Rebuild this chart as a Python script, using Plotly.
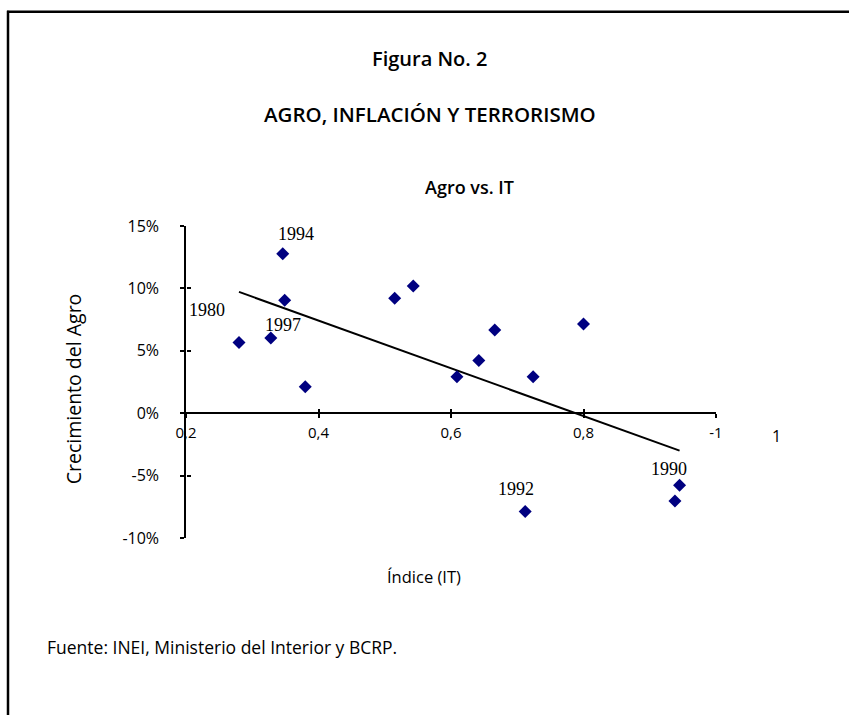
import numpy as np
import plotly.graph_objects as go

# ---- data ----
indice_it = [0.280, 0.328, 0.346, 0.349, 0.380, 0.515, 0.543, 0.609, 0.642,
             0.666, 0.800, 0.724, 0.712, 0.945, 0.938]
crec_agro = [5.67, 6.02, 12.77, 9.06, 2.12, 9.22, 10.19, 2.93, 4.22,
             6.67, 7.15, 2.93, -7.88, -5.78, -7.04]
label_years = ["1980", "1997", "1994", "1992", "1990"]
label_idx = [0, 1, 2, 12, 13]

x_tickvals = [0.2, 0.4, 0.6, 0.8, 1.0]
x_ticktext = ["0,2", "0,4", "0,6", "0,8", "-1"]
y_tickvals = [-10, -5, 0, 5, 10, 15]
y_ticktext = ["-10%", "-5%", "0%", "5%", "10%", "15%"]

# ---- layout geometry (pixels) ----
W, H = 849, 715
L, R, T, B = 186, 716, 225.5, 538


def px(xp):
    return (xp - L) / (R - L)


def py(yp):
    return (B - yp) / (B - T)


TITLE_FONT = "Open Sans, Lato, sans-serif"
SANS = "Open Sans, Lato, sans-serif"
SERIF = "Liberation Serif, DejaVu Serif, serif"

# regression line (OLS on the points)
xa = np.array(indice_it)
ya = np.array(crec_agro)
m, c = np.polyfit(xa, ya, 1)
xl = np.array([xa.min(), xa.max()])
yl = m * xl + c

fig = go.Figure()
fig.add_trace(go.Scatter(x=xl, y=yl, mode="lines",
                         line=dict(color="black", width=2),
                         hoverinfo="skip", showlegend=False))
fig.add_trace(go.Scatter(x=indice_it, y=crec_agro, mode="markers",
                         marker=dict(symbol="diamond", size=10, color="#000080",
                                     line=dict(width=0)),
                         showlegend=False))
# invisible trace for overlay axes (inside ticks)
fig.add_trace(go.Scatter(x=[0.2], y=[0], xaxis="x2", yaxis="y2", mode="markers",
                         marker=dict(opacity=0), showlegend=False, hoverinfo="skip"))

axis_common = dict(showgrid=False, zeroline=False, linecolor="black",
                   tickcolor="black", ticklen=4, tickwidth=1.5)

fig.update_layout(
    width=W, height=H,
    margin=dict(l=L, r=W - R, t=T, b=H - B),
    paper_bgcolor="white", plot_bgcolor="white",
    xaxis=dict(range=[0.2, 1.0], tickvals=x_tickvals, ticktext=x_ticktext,
               anchor="free", position=py(413), showline=True, linewidth=1.5,
               ticks="outside", ticklabelstandoff=2,
               tickfont=dict(family=SANS, size=15, color="black"),
               **axis_common),
    yaxis=dict(range=[-10, 15], tickvals=y_tickvals, ticktext=y_ticktext,
               showline=True, linewidth=1.5, ticks="outside",
               ticklabelstandoff=18,
               tickfont=dict(family=SANS, size=16, color="black"),
               **axis_common),
    xaxis2=dict(range=[0.2, 1.0], tickvals=x_tickvals, overlaying="x",
                anchor="free", position=py(413), ticks="inside",
                showticklabels=False, showline=False, **axis_common),
    yaxis2=dict(range=[-10, 15], tickvals=y_tickvals, overlaying="y",
                anchor="free", position=0, ticks="inside",
                showticklabels=False, showline=False, **axis_common),
)

ann = []


def add_text(text, xp, yp, size, family, xanchor="center", angle=0, weight="normal"):
    ann.append(dict(text=text, x=px(xp), y=py(yp), xref="paper", yref="paper",
                    showarrow=False, xanchor=xanchor, yanchor="middle",
                    textangle=angle,
                    font=dict(family=family, size=size, color="black",
                              weight=weight)))


add_text("Figura No. 2", 429, 58, 20, TITLE_FONT, weight=600)
add_text("AGRO, INFLACIÓN Y TERRORISMO", 430, 113, 20.5, TITLE_FONT, weight=600)
add_text("Agro vs. IT", 469, 186, 18, TITLE_FONT, weight=600)
add_text("Índice (IT)", 424, 577, 16.5, SANS)
add_text("Fuente: INEI, Ministerio del Interior y BCRP.", 45, 647, 17.5, SANS,
         xanchor="left")
add_text("Crecimiento del Agro", 73, 389, 19.5, SANS, angle=-90)
add_text("1", 776, 436, 16, SANS)

# year labels: offsets in pixels from their points
offsets = {"1980": (-32, 32), "1997": (12, 13), "1994": (13, 20),
           "1992": (-9, 23), "1990": (-11, 16)}
for yr, i in zip(label_years, label_idx):
    dx, dy = offsets[yr]
    ann.append(dict(text=yr, x=indice_it[i], y=crec_agro[i], xref="x", yref="y",
                    showarrow=False, xshift=dx, yshift=dy,
                    font=dict(family=SERIF, size=18, color="black")))

fig.update_layout(annotations=ann)

# border (top and left)
fig.add_shape(type="line", xref="paper", yref="paper",
              x0=px(7), x1=px(W + 5), y0=py(11), y1=py(11),
              line=dict(color="black", width=2.5))
fig.add_shape(type="line", xref="paper", yref="paper",
              x0=px(8), x1=px(8), y0=py(10), y1=py(H + 5),
              line=dict(color="black", width=2.5))

fig.write_html("out.html")
